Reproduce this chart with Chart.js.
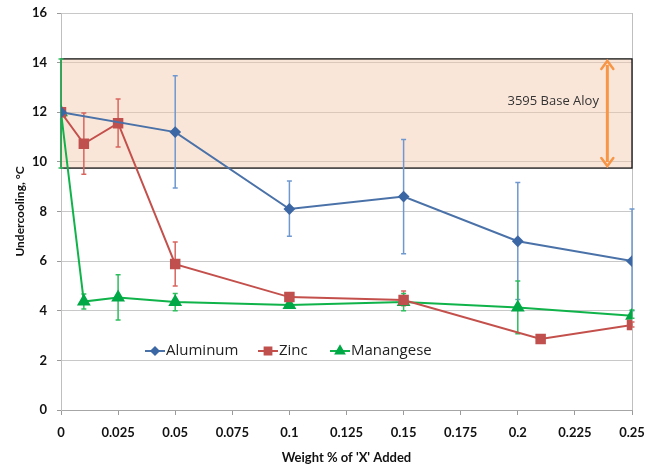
<!DOCTYPE html>
<html>
<head>
<meta charset="utf-8">
<script src="https://cdn.jsdelivr.net/npm/chart.js@4"></script>
<style>
  html, body { margin: 0; padding: 0; background: #fff; }
  #wrap { width: 650px; height: 466px; position: relative; }
</style>
</head>
<body>
<div id="wrap"><canvas id="chart" width="650" height="466"></canvas></div>
<script>
// ================== Dados ==================
const seriesNames = ["Aluminum", "Zinc", "Manangese"];

const aluminumX = [0, 0.05, 0.1, 0.15, 0.2, 0.25];
const aluminumY = [12.0, 11.2, 8.1, 8.6, 6.8, 6.0];
const aluminumLow = [null, 8.95, 7.0, 6.3, 4.45, 4.0];
const aluminumHigh = [null, 13.47, 9.23, 10.9, 9.17, 8.1];

const zincX = [0, 0.01, 0.025, 0.05, 0.1, 0.15, 0.21, 0.25];
const zincY = [12.0, 10.73, 11.56, 5.88, 4.55, 4.43, 2.86, 3.43];
const zincLow = [null, 9.5, 10.6, 5.0, 4.45, 4.2, 2.8, 3.35];
const zincHigh = [null, 11.97, 12.53, 6.77, 4.65, 4.8, 2.95, 3.55];

const mnX = [0, 0.01, 0.025, 0.05, 0.1, 0.15, 0.2, 0.25];
const mnY = [12.0, 4.37, 4.53, 4.35, 4.23, 4.35, 4.13, 3.8];
const mnLow = [9.75, 4.07, 3.63, 4.0, 4.15, 4.0, 3.07, 3.7];
const mnHigh = [14.15, 4.68, 5.45, 4.7, 4.33, 4.7, 5.2, 4.03];

const baseRange = [9.75, 14.15];
const baseLabel = "3595 Base Aloy";

const xTicks = [0, 0.025, 0.05, 0.075, 0.1, 0.125, 0.15, 0.175, 0.2, 0.225, 0.25];
const yTicks = [0, 2, 4, 6, 8, 10, 12, 14, 16];

// ================== Helpers ==================
function pts(xs, ys) {
  return xs.map((x, i) => ({ x: x, y: ys[i] }));
}

const errBars = [
  { low: aluminumLow, high: aluminumHigh, color: "#6F98CF", width: 1.5 },
  { low: zincLow, high: zincHigh, color: "#D9655F", width: 1.5 },
  { low: mnLow, high: mnHigh, color: "#2DBE5E", width: 1.5 },
];

// caixa da liga base + seta + texto
const baseBoxPlugin = {
  id: "baseBox",
  beforeDatasetsDraw(chart) {
    const { ctx, chartArea, scales } = chart;
    const yTop = scales.y.getPixelForValue(baseRange[1]);
    const yBot = scales.y.getPixelForValue(baseRange[0]);
    ctx.save();
    ctx.fillStyle = "rgba(244, 200, 170, 0.45)";
    ctx.fillRect(chartArea.left, yTop, chartArea.right - chartArea.left, yBot - yTop);
    ctx.strokeStyle = "#111";
    ctx.lineWidth = 1.3;
    ctx.strokeRect(chartArea.left, yTop, chartArea.right - chartArea.left, yBot - yTop);

    // seta dupla laranja
    const ax = scales.x.getPixelForValue(0.2392);
    const a1 = scales.y.getPixelForValue(baseRange[1] - 0.08);
    const a2 = scales.y.getPixelForValue(baseRange[0] + 0.08);
    ctx.strokeStyle = "#F79646";
    ctx.fillStyle = "#F79646";
    ctx.lineWidth = 3;
    ctx.beginPath();
    ctx.moveTo(ax, a1 + 4);
    ctx.lineTo(ax, a2 - 4);
    ctx.stroke();
    ctx.lineWidth = 2.5;
    ctx.lineCap = "round";
    ctx.beginPath();
    ctx.moveTo(ax - 6, a1 + 8); ctx.lineTo(ax, a1); ctx.lineTo(ax + 6, a1 + 8);
    ctx.moveTo(ax - 6, a2 - 8); ctx.lineTo(ax, a2); ctx.lineTo(ax + 6, a2 - 8);
    ctx.stroke();

    ctx.fillStyle = "#333";
    ctx.font = "13px 'Open Sans', sans-serif";
    ctx.textAlign = "center";
    ctx.textBaseline = "middle";
    ctx.fillText(baseLabel, scales.x.getPixelForValue(0.2155), scales.y.getPixelForValue(12.45));
    ctx.restore();
  },
};

// barras de erro
const errorBarPlugin = {
  id: "errorBars",
  beforeDatasetsDraw(chart) {
    const { ctx, scales } = chart;
    ctx.save();
    chart.data.datasets.forEach((ds, di) => {
      const eb = errBars[di];
      ctx.strokeStyle = eb.color;
      ctx.lineWidth = eb.width;
      ds.data.forEach((p, i) => {
        if (eb.low[i] == null) return;
        const x = scales.x.getPixelForValue(p.x);
        const yl = scales.y.getPixelForValue(eb.low[i]);
        const yh = scales.y.getPixelForValue(eb.high[i]);
        ctx.beginPath();
        ctx.moveTo(x, yl); ctx.lineTo(x, yh);
        ctx.moveTo(x - 2.5, yl); ctx.lineTo(x + 2.5, yl);
        ctx.moveTo(x - 2.5, yh); ctx.lineTo(x + 2.5, yh);
        ctx.stroke();
      });
    });
    ctx.restore();
  },
};

// legenda dentro do gráfico
const legendPlugin = {
  id: "innerLegend",
  afterDraw(chart) {
    const { ctx } = chart;
    const items = [145, 258, 330];
    const y = 351;
    ctx.save();
    chart.data.datasets.forEach((ds, i) => {
      const x0 = items[i];
      ctx.strokeStyle = ds.borderColor;
      ctx.lineWidth = 2;
      ctx.beginPath();
      ctx.moveTo(x0, y); ctx.lineTo(x0 + 20, y);
      ctx.stroke();
      ctx.fillStyle = ds.pointBackgroundColor;
      ctx.strokeStyle = ds.pointBackgroundColor;
      Chart.helpers.drawPoint(ctx, {
        pointStyle: ds.pointStyle,
        radius: ds.pointRadius * 0.8,
        borderWidth: 1,
        rotation: 0,
      }, x0 + 10, y);
      ctx.fillStyle = "#222";
      ctx.font = "15px 'Open Sans', sans-serif";
      ctx.textAlign = "left";
      ctx.textBaseline = "middle";
      ctx.fillText(ds.label, x0 + 21, y);
    });
    ctx.restore();
  },
};

// ================== Gráfico ==================
const ctx = document.getElementById("chart").getContext("2d");

new Chart(ctx, {
  type: "line",
  data: {
    datasets: [
      {
        label: seriesNames[0],
        data: pts(aluminumX, aluminumY),
        borderColor: "#4A72A8",
        backgroundColor: "#3C67A5",
        pointBackgroundColor: "#3C67A5",
        pointBorderColor: "#3C67A5",
        pointStyle: "rectRot",
        pointRadius: 4.5,
        borderWidth: 2,
        tension: 0,
      },
      {
        label: seriesNames[1],
        data: pts(zincX, zincY),
        borderColor: "#C4504C",
        backgroundColor: "#C0504D",
        pointBackgroundColor: "#C0504D",
        pointBorderColor: "#C0504D",
        pointStyle: "rect",
        pointRadius: 6,
        borderWidth: 2,
        tension: 0,
      },
      {
        label: seriesNames[2],
        data: pts(mnX, mnY),
        borderColor: "#10B34A",
        backgroundColor: "#00A846",
        pointBackgroundColor: "#00A846",
        pointBorderColor: "#00A846",
        pointStyle: "triangle",
        pointRadius: 6,
        borderWidth: 2,
        tension: 0,
      },
    ],
  },
  options: {
    responsive: false,
    animation: false,
    layout: { padding: { top: 13, right: 18, left: 0, bottom: 0 } },
    plugins: {
      legend: { display: false },
      tooltip: { enabled: false },
    },
    scales: {
      x: {
        type: "linear",
        min: 0,
        max: 0.25,
        afterBuildTicks: (axis) => { axis.ticks = xTicks.map((v) => ({ value: v })); },
        afterFit: (axis) => {
          axis.height = 56;
          axis.paddingLeft = 0;
          axis.paddingRight = 0;
        },
        ticks: {
          padding: 10,
          color: "#111",
          font: { family: "Lato", size: 13, weight: "bold" },
          maxRotation: 0,
          callback: (v) => String(+Number(v).toFixed(3)),
        },
        grid: {
          color: (c) => (c.tick && c.tick.value === 0.25 ? "#BFBFBF" : "rgba(0,0,0,0)"),
          tickColor: "#9A9A9A",
          tickLength: 5,
        },
        border: { color: "#A6A6A6" },
        title: {
          display: true,
          text: "Weight % of 'X' Added",
          color: "#111",
          font: { family: "Lato", size: 13, weight: "bold" },
          padding: { top: 0, bottom: 0 },
        },
      },
      y: {
        min: 0,
        max: 16,
        afterBuildTicks: (axis) => { axis.ticks = yTicks.map((v) => ({ value: v })); },
        afterFit: (axis) => {
          axis.width = 61;
          axis.paddingTop = 0;
          axis.paddingBottom = 0;
        },
        ticks: {
          padding: 10,
          color: "#111",
          font: { family: "Lato", size: 13, weight: "bold" },
        },
        grid: {
          color: "#C8C8C8",
          tickColor: "#9A9A9A",
          tickLength: 4,
        },
        border: { color: "#BFBFBF" },
        title: {
          display: true,
          text: "Undercooling, °C",
          color: "#111",
          font: { family: "Lato", size: 12, weight: "bold" },
          padding: { top: 13, bottom: 0 },
        },
      },
    },
  },
  plugins: [baseBoxPlugin, errorBarPlugin, legendPlugin],
});
</script>
</body>
</html>
